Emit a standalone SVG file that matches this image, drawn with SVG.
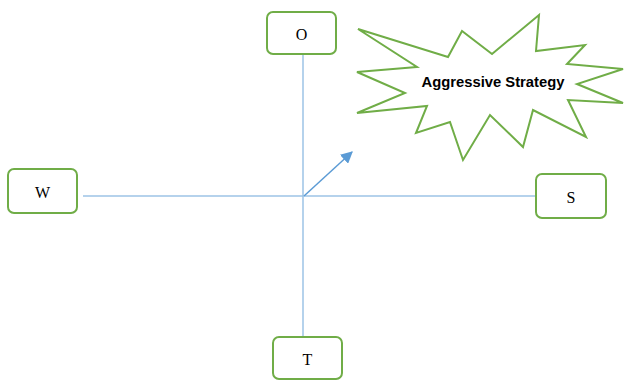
<svg xmlns="http://www.w3.org/2000/svg" width="627" height="381" viewBox="0 0 627 381">
<defs>
<style>
.box{fill:#fff;stroke:#70ad47;stroke-width:2}
.lbl{font-family:"Liberation Serif",serif;font-size:16px;fill:#000;text-anchor:middle;dominant-baseline:central}
.ln{stroke:#9dc3e6;stroke-width:1.5;fill:none}
.ar{stroke:#5b9bd5;stroke-width:1.5;fill:none}
</style>
<marker id="ah" viewBox="0 0 10 10" refX="9" refY="5" markerWidth="8" markerHeight="8" orient="auto" markerUnits="strokeWidth">
<path d="M0,0 L10,5 L0,10 z" fill="#5b9bd5"/>
</marker>
</defs>
<rect width="627" height="381" fill="#fff"/>
<g id="connectors">
<line class="ln" x1="303" y1="54" x2="303" y2="337"/>
<line class="ln" x1="83" y1="196" x2="536" y2="196"/>
<line class="ar" x1="304" y1="196" x2="352" y2="152" marker-end="url(#ah)"/>
</g>
<g id="node-O">
<rect class="box" x="267" y="12" width="69" height="42" rx="6"/>
<text class="lbl" x="301.5" y="34">O</text>
</g>
<g id="node-W">
<rect class="box" x="8" y="169" width="69" height="44" rx="6"/>
<text class="lbl" x="42.5" y="192">W</text>
</g>
<g id="node-S">
<rect class="box" x="536" y="174" width="70" height="44" rx="6"/>
<text class="lbl" x="571" y="197">S</text>
</g>
<g id="node-T">
<rect class="box" x="273" y="337" width="69" height="42" rx="6"/>
<text class="lbl" x="307.5" y="359">T</text>
</g>
<g id="node-aggressive">
<polygon fill="#fff" stroke="#70ad47" stroke-width="2" points="358,29 448,57 462,31 492,54 539,15 536,51 585,45 567,64 623,69 577,84 623,103 568,100 586,137 533,110 523,147 490,115 463,160 450,122 416,133 427,106 357,113 405,93 357,72 417,67"/>
<text x="493" y="81" font-family="Liberation Sans,sans-serif" font-weight="bold" font-size="15px" text-anchor="middle" dominant-baseline="central" textLength="143" lengthAdjust="spacingAndGlyphs">Aggressive Strategy</text>
</g>
</svg>
